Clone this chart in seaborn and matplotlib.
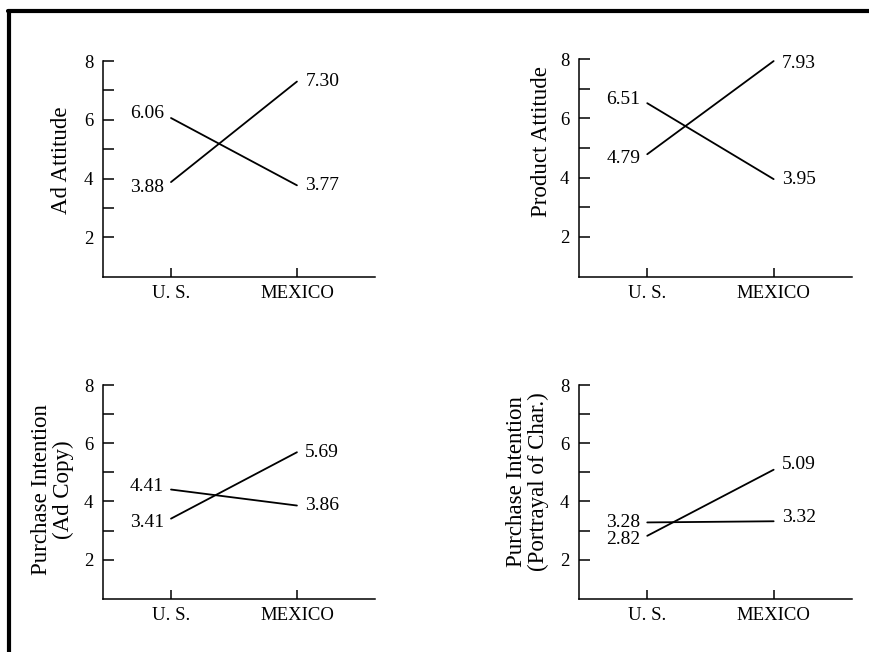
import matplotlib
matplotlib.use("Agg")
import matplotlib.pyplot as plt
from matplotlib.lines import Line2D
from matplotlib.ticker import FixedLocator, NullFormatter
import seaborn as sns
import pandas as pd

# ---- data ----
countries = ["U. S.", "MEXICO"]
panel_titles = ["Ad Attitude", "Product Attitude",
                "Purchase Intention\n(Ad Copy)",
                "Purchase Intention\n(Portrayal of Char.)"]
# each panel has two lines: values at (U.S., MEXICO)
ad_attitude = [[6.06, 3.77], [3.88, 7.30]]
product_attitude = [[6.51, 3.95], [4.79, 7.93]]
pi_ad_copy = [[4.41, 3.86], [3.41, 5.69]]
pi_portrayal = [[3.28, 3.32], [2.82, 5.09]]
panels_data = [ad_attitude, product_attitude, pi_ad_copy, pi_portrayal]
y_major = [2, 4, 6, 8]
y_minor = [3, 5, 7]

# ---- style ----
sns.set_style("white")
plt.rcParams["font.family"] = ["Liberation Serif", "DejaVu Serif"]
for key in ["text.color", "axes.labelcolor", "xtick.color", "ytick.color",
            "axes.edgecolor"]:
    plt.rcParams[key] = "black"

fig = plt.figure(figsize=(8.7, 6.52), dpi=100)
W, H = 870, 652

# axes boxes in pixels: (left, top, right, bottom)
boxes = [(103, 61, 375, 277), (579, 59, 852, 277),
         (103, 385, 375, 599), (579, 385, 852, 599)]
label_coords = [(-0.114, 0.54), (-0.099, 0.62), (-0.107, 0.51), (-0.11, 0.55)]
# label offsets in points: [line][US, MEXICO]
offsets = [
    [[3, 0], [-4, 0]],
    [[3, 0], [-3, -2]],
    [[2, 0], [-3, 0]],
    [[0, 3], [-3, 4]],
]

for k, (box, data) in enumerate(zip(boxes, panels_data)):
    l, t, r, b = box
    ax = fig.add_axes([l / W, 1 - b / H, (r - l) / W, (b - t) / H])
    rows = []
    for li, vals in enumerate(data):
        for c, v in zip(countries, vals):
            rows.append({"country": c, "value": v, "line": li})
    df = pd.DataFrame(rows)
    sns.lineplot(data=df, x="country", y="value", units="line",
                 estimator=None, color="black", linewidth=1.3, ax=ax,
                 sort=False)
    ax.set_xlim(-0.54, 1.62)
    ax.set_ylim(0.65, 8)
    ax.yaxis.set_major_locator(FixedLocator(y_major))
    ax.yaxis.set_minor_locator(FixedLocator(y_minor))
    ax.yaxis.set_minor_formatter(NullFormatter())
    ax.set_xticks(range(len(countries)))
    ax.set_xticklabels(countries)
    for s in ["top", "right"]:
        ax.spines[s].set_visible(False)
    for s in ["left", "bottom"]:
        ax.spines[s].set_linewidth(1.1)
        ax.spines[s].set_color("black")
    ax.tick_params(axis="y", which="both", direction="in", length=8,
                   width=1.1, color="black", labelsize=13.5, pad=7,
                   left=True, labelleft=True)
    ax.tick_params(axis="x", which="major", direction="in", length=6.5,
                   width=1.1, color="black", labelsize=13.5, pad=6,
                   bottom=True, labelbottom=True)
    ax.tick_params(axis="x", which="minor", length=0)
    ax.set_xlabel("")
    ax.set_ylabel(panel_titles[k], fontsize=16.5, linespacing=1.05)
    ax.yaxis.set_label_coords(*label_coords[k])
    if ax.get_legend():
        ax.get_legend().remove()
    for li, vals in enumerate(data):
        for ci, v in enumerate(vals):
            dy = offsets[k][li][ci]
            if ci == 0:
                ax.annotate(f"{v:.2f}", xy=(ci, v), xytext=(-5, dy),
                            textcoords="offset points", ha="right",
                            va="center", fontsize=14)
            else:
                ax.annotate(f"{v:.2f}", xy=(ci, v), xytext=(6, dy),
                            textcoords="offset points", ha="left",
                            va="center", fontsize=14)

# frame lines (top and left)
fig.add_artist(Line2D([9.5 / W, 9.5 / W], [0, 1 - 11 / H],
                      transform=fig.transFigure, color="black", linewidth=3))
fig.add_artist(Line2D([8 / W, 1], [1 - 11 / H, 1 - 11 / H],
                      transform=fig.transFigure, color="black", linewidth=3))

fig.savefig("out.png", dpi=100)
